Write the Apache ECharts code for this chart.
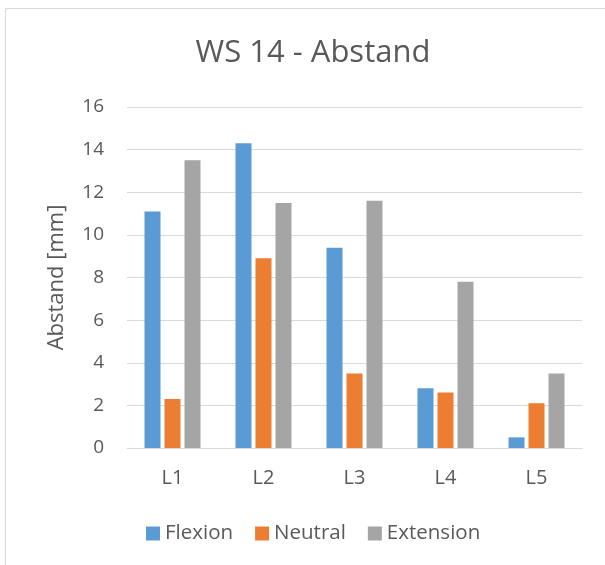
<!DOCTYPE html>
<html>
<head>
<meta charset="utf-8">
<script src="https://cdn.jsdelivr.net/npm/echarts@6/dist/echarts.min.js"></script>
<style>
  html, body { margin: 0; padding: 0; background: #fff; }
  #chart { width: 605px; height: 565px; }
</style>
</head>
<body>
<div id="chart"></div>
<script>
// Segments of the lumbar spine
const categories = ['L1', 'L2', 'L3', 'L4', 'L5'];

// Distance in mm per position
const flexion = [11.1, 14.3, 9.4, 2.8, 0.5];
const neutral = [2.3, 8.9, 3.5, 2.6, 2.1];
const extension = [13.5, 11.5, 11.6, 7.8, 3.5];

const FONT = '"Open Sans", sans-serif';
const TEXT = '#595959';

const chart = echarts.init(document.getElementById('chart'));

function barSeries(name, data, color) {
  return {
    name: name,
    type: 'bar',
    data: data,
    barWidth: 16,
    barGap: '25%',
    itemStyle: { color: color },
    emphasis: { disabled: true }
  };
}

chart.setOption({
  animation: false,
  backgroundColor: '#fff',
  graphic: [{
    type: 'rect',
    shape: { x: 5.5, y: 8.5, width: 700, height: 700 },
    style: { fill: 'none', stroke: '#D9D9D9', lineWidth: 1 },
    silent: true
  }],
  title: {
    text: 'WS 14 - Abstand',
    left: 308,
    textAlign: 'center',
    top: 33,
    textStyle: { fontFamily: FONT, fontSize: 31, fontWeight: 'normal', color: TEXT }
  },
  legend: {
    data: ['Flexion', 'Neutral', 'Extension'],
    left: 141,
    top: 518,
    itemWidth: 14,
    itemHeight: 14,
    itemGap: 22,
    icon: 'rect',
    textStyle: { fontFamily: FONT, fontSize: 20.5, color: TEXT }
  },
  grid: { left: 127, right: 23, top: 107, bottom: 117, containLabel: false },
  xAxis: {
    type: 'category',
    data: categories,
    axisTick: { show: false },
    axisLine: { lineStyle: { color: '#D9D9D9', width: 1 } },
    axisLabel: { fontFamily: FONT, fontSize: 20, color: TEXT, margin: 20 }
  },
  yAxis: {
    type: 'value',
    min: 0,
    max: 16,
    interval: 2,
    name: 'Abstand [mm]',
    nameLocation: 'middle',
    nameGap: 59,
    nameRotate: 90,
    nameTextStyle: { fontFamily: FONT, fontSize: 22, color: TEXT },
    axisLine: { show: false },
    axisTick: { show: false },
    axisLabel: { fontFamily: FONT, fontSize: 19, color: TEXT, margin: 23 },
    splitLine: { lineStyle: { color: '#D9D9D9', width: 1 } }
  },
  series: [
    barSeries('Flexion', flexion, '#5B9BD5'),
    barSeries('Neutral', neutral, '#ED7D31'),
    barSeries('Extension', extension, '#A5A5A5')
  ]
});
</script>
</body>
</html>
